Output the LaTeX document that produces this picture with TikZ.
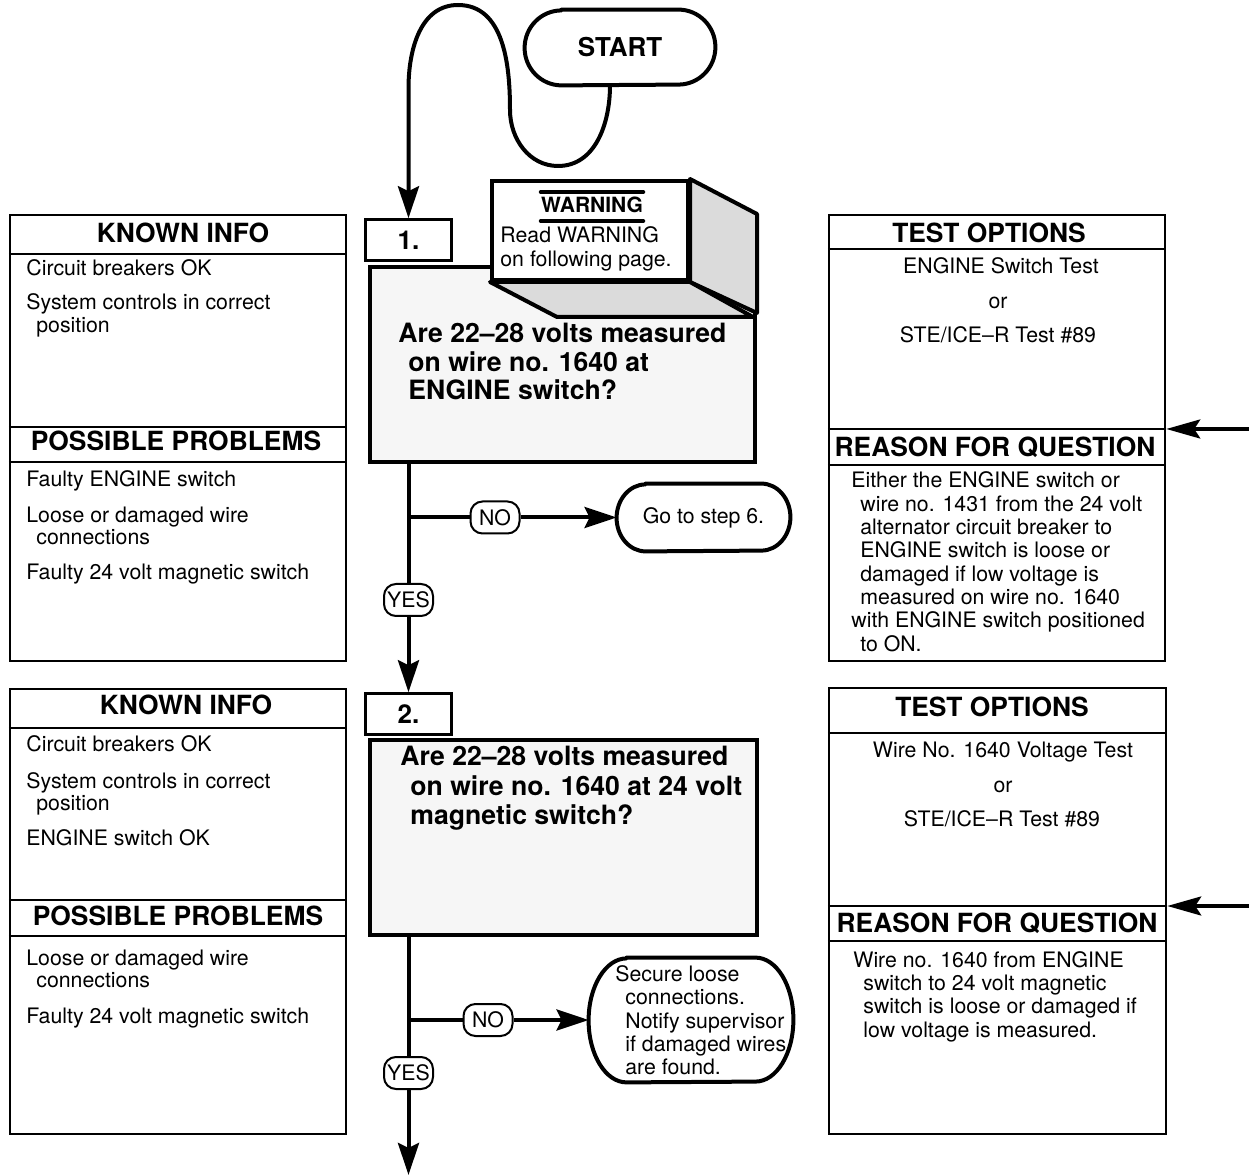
\documentclass[tikz,border=0pt]{standalone}
\usepackage{fontspec}
\setmainfont{TeX Gyre Heros}
\usetikzlibrary{arrows.meta}
\definecolor{qfill}{gray}{0.965}
\definecolor{sidefill}{gray}{0.86}

% stadium outline around a (borderless) node: node name, end x-radius, end y-radius
\newcommand\termshape[3]{%
  \draw[term] ([xshift=#2]#1.north west) -- ([xshift=-#2]#1.north east)
    arc[start angle=90,end angle=-90,x radius=#2,y radius=#3]
    -- ([xshift=#2]#1.south west)
    arc[start angle=270,end angle=90,x radius=#2,y radius=#3] -- cycle;}

\begin{document}
\begin{tikzpicture}[x=0.5pt,y=-0.5pt,
  txt/.style={font=\fontsize{10.65}{12}\selectfont, inner sep=0pt, anchor=base west},
  ctxt/.style={font=\fontsize{10.65}{12}\selectfont, inner sep=0pt, anchor=base},
  hd/.style={font=\fontsize{13.2}{15}\selectfont\bfseries, inner sep=0pt, anchor=base},
  quest/.style={font=\fontsize{13.3}{15}\selectfont\bfseries, inner sep=0pt, anchor=base west},
  panel/.style={draw, line width=1.25pt, rectangle, inner sep=0pt},
  divider/.style={line width=1.25pt},
  qbox/.style={draw, line width=2.25pt, fill=qfill, rectangle, inner sep=0pt},
  numbox/.style={draw, line width=1.25pt, fill=white, rectangle, inner sep=0pt,
    minimum width=43pt, minimum height=20.5pt, font=\fontsize{13}{15}\selectfont\bfseries},
  termnode/.style={rectangle, inner sep=0pt},
  term/.style={draw, line width=2pt, line join=round},
  yn/.style={draw, line width=1pt, fill=white, rounded corners=6pt, inner sep=0pt,
    minimum width=24.5pt, minimum height=16pt, font=\fontsize{10.65}{12}\selectfont},
  flow/.style={line width=2pt},
  flowarrow/.style={line width=2pt, -{Stealth[length=16pt,width=10.5pt,inset=2.5pt]}},
  sidearrow/.style={line width=1.75pt, -{Stealth[length=17pt,width=9.5pt,inset=3pt]}},
  warnline/.style={line width=2pt, line cap=round},
  face/.style={draw, line width=2pt, fill=sidefill, line join=round}
]
\useasboundingbox (0,0) rectangle (1249,1176);

% ---------- side panels, step 1 ----------
\node[panel, minimum width=168pt, minimum height=223pt] (lp1) at (178,438) {};
\draw[divider] (lp1.west |- 0,254) -- (lp1.east |- 0,254);
\draw[divider] (lp1.west |- 0,427) -- (lp1.east |- 0,427);
\draw[divider] (lp1.west |- 0,462) -- (lp1.east |- 0,462);
\node[hd] (lp1h) at (183,243) {KNOWN INFO};
\node[txt] (lp1a) at (26,276) {Circuit breakers OK};
\node[txt] (lp1b) at (26,310) {System controls in correct};
\node[txt] (lp1c) at (36,333) {position};
\node[hd] (lp1p) at (176,451) {POSSIBLE PROBLEMS};
\node[txt] (lp1d) at (26,487) {Faulty ENGINE switch};
\node[txt] (lp1e) at (26,523) {Loose or damaged wire};
\node[txt] (lp1f) at (36,545) {connections};
\node[txt] (lp1g) at (26,580) {Faulty 24 volt magnetic switch};

\node[panel, minimum width=168pt, minimum height=223pt] (rp1) at (997,438) {};
\draw[divider] (rp1.west |- 0,249) -- (rp1.east |- 0,249);
\draw[divider] (rp1.west |- 0,429) -- (rp1.east |- 0,429);
\draw[divider] (rp1.west |- 0,465) -- (rp1.east |- 0,465);
\node[hd] (rp1h) at (989,243) {TEST OPTIONS};
\node[ctxt] (rp1a) at (1001,274) {ENGINE Switch Test};
\node[ctxt] (rp1b) at (998,309) {or};
\node[ctxt] (rp1c) at (998,343) {STE/ICE–R Test \#89};
\node[hd] (rp1r) at (995,457) {REASON FOR QUESTION};
\node[txt] (rp1d) at (851,488) {Either the ENGINE switch or};
\node[txt] (rp1e) at (860,512) {wire no. 1431 from the 24 volt};
\node[txt] (rp1f) at (860,535) {alternator circuit breaker to};
\node[txt] (rp1g) at (860,558) {ENGINE switch is loose or};
\node[txt] (rp1i) at (860,582) {damaged if low voltage is};
\node[txt] (rp1j) at (860,605) {measured on wire no. 1640};
\node[txt] (rp1k) at (851,628) {with ENGINE switch positioned};
\node[txt] (rp1l) at (860,652) {to ON.};

% ---------- side panels, step 2 ----------
\node[panel, minimum width=168pt, minimum height=222.5pt] (lp2) at (178,911.5) {};
\draw[divider] (lp2.west |- 0,728) -- (lp2.east |- 0,728);
\draw[divider] (lp2.west |- 0,900) -- (lp2.east |- 0,900);
\draw[divider] (lp2.west |- 0,936) -- (lp2.east |- 0,936);
\node[hd] (lp2h) at (186,715) {KNOWN INFO};
\node[txt] (lp2a) at (26,752) {Circuit breakers OK};
\node[txt] (lp2b) at (26,788) {System controls in correct};
\node[txt] (lp2c) at (36,811) {position};
\node[txt] (lp2d) at (26,845) {ENGINE switch OK};
\node[hd] (lp2p) at (178,925) {POSSIBLE PROBLEMS};
\node[txt] (lp2e) at (26,965) {Loose or damaged wire};
\node[txt] (lp2f) at (36,987) {connections};
\node[txt] (lp2g) at (26,1023) {Faulty 24 volt magnetic switch};

\node[panel, minimum width=168.5pt, minimum height=223pt] (rp2) at (997.5,911) {};
\draw[divider] (rp2.west |- 0,733) -- (rp2.east |- 0,733);
\draw[divider] (rp2.west |- 0,906) -- (rp2.east |- 0,906);
\draw[divider] (rp2.west |- 0,941) -- (rp2.east |- 0,941);
\node[hd] (rp2h) at (992,717) {TEST OPTIONS};
\node[ctxt] (rp2a) at (1003,757) {Wire No. 1640 Voltage Test};
\node[ctxt] (rp2b) at (1003,792) {or};
\node[ctxt] (rp2c) at (1002,827) {STE/ICE–R Test \#89};
\node[hd] (rp2r) at (997,932) {REASON FOR QUESTION};
\node[txt] (rp2d) at (853,967) {Wire no. 1640 from ENGINE};
\node[txt] (rp2e) at (863,990) {switch to 24 volt magnetic};
\node[txt] (rp2f) at (863,1013) {switch is loose or damaged if};
\node[txt] (rp2g) at (863,1037) {low voltage is measured.};

% pointers to the reason headings
\coordinate (ra1) at (1249,429);
\coordinate (ra2) at (1249,906);
\draw[sidearrow] (ra1) -- (rp1.east |- ra1);
\draw[sidearrow] (ra2) -- (rp2.east |- ra2);

% ---------- start ----------
\node[termnode, minimum width=95pt, minimum height=37.5pt,
      font=\fontsize{13}{15}\selectfont\bfseries] (start) at (620,47.5) {START};
\termshape{start}{18.5pt}{18.75pt}

% ---------- step 1 ----------
\node[numbox] (num1) at (408.5,240) {1.};
\node[qbox, minimum width=192.5pt, minimum height=97.5pt] (q1) at (562.5,364.5) {};
\node[quest] (q1a) at (398,343) {Are 22–28 volts measured};
\node[quest] (q1b) at (408,372) {on wire no. 1640 at};
\node[quest] (q1c) at (408,400) {ENGINE switch?};

% warning block drawn as a box seen in relief
\node[draw, line width=2pt, fill=white, rectangle, inner sep=0pt,
      minimum width=98pt, minimum height=49.5pt] (warn) at (590,230.5) {};
\draw[face] (warn.north east) -- ++(67,35) -- ++(0,99) -- (warn.south east) -- cycle;
\draw[face] (warn.south west) -- ++(67,35) -- ++(196,0) -- (warn.south east) -- cycle;
\node[font=\fontsize{10.5}{12}\selectfont\bfseries, inner sep=0pt, anchor=base]
      (warnt) at (592,213) {WARNING};
\draw[warnline] (warnt.west |- 0,192) -- (warnt.east |- 0,192);
\draw[warnline] (warnt.west |- 0,221) -- (warnt.east |- 0,221);
\node[txt] (warna) at (500,243) {Read WARNING};
\node[txt] (warnb) at (500,267) {on following page.};

\node[termnode, minimum width=86.5pt, minimum height=33.5pt,
      font=\fontsize{10.65}{12}\selectfont] (go6) at (703.5,517.5) {Go to step 6.};
\termshape{go6}{14.5pt}{16.75pt}
\node[yn] (no1) at (495,517.5) {NO};
\node[yn] (yes1) at (408.5,600) {YES};

% ---------- step 2 ----------
\node[numbox] (num2) at (408.5,714) {2.};
\node[qbox, minimum width=193.5pt, minimum height=97.5pt] (q2) at (563.5,837.5) {};
\node[quest] (q2a) at (400,766) {Are 22–28 volts measured};
\node[quest] (q2b) at (410,795) {on wire no. 1640 at 24 volt};
\node[quest] (q2c) at (410,824) {magnetic switch?};

\node[termnode, minimum width=102pt, minimum height=62pt] (fix) at (691,1020) {};
\termshape{fix}{19pt}{31pt}
\node[txt] (fixa) at (615,981) {Secure loose};
\node[txt] (fixb) at (625,1004) {connections.};
\node[txt] (fixc) at (625,1028) {Notify supervisor};
\node[txt] (fixd) at (625,1051) {if damaged wires};
\node[txt] (fixe) at (625,1074) {are found.};
\node[yn] (no2) at (488,1020) {NO};
\node[yn] (yes2) at (408.5,1073) {YES};
\coordinate (out2) at (408.5,1175);

% ---------- connectors ----------
\draw[flowarrow] ([xshift=-5pt]start.south) to[out=-90,in=0] (558,166)
  to[out=180,in=-90] (510,110) to[out=90,in=0] (458,5)
  to[out=180,in=90] ([yshift=65pt]num1.north) -- (num1.north);

\draw[flow] (q1.south -| num1) -- (yes1.north);
\draw[flowarrow] (yes1.south) -- (num2.north);
\draw[flow] (num1 |- no1) -- (no1.west);
\draw[flowarrow] (no1.east) -- (go6.west);

\draw[flow] (q2.south -| num2) -- (yes2.north);
\draw[flowarrow] (yes2.south) -- (out2);
\draw[flow] (num2 |- no2) -- (no2.west);
\draw[flowarrow] (no2.east) -- (fix.west);
\end{tikzpicture}
\end{document}
